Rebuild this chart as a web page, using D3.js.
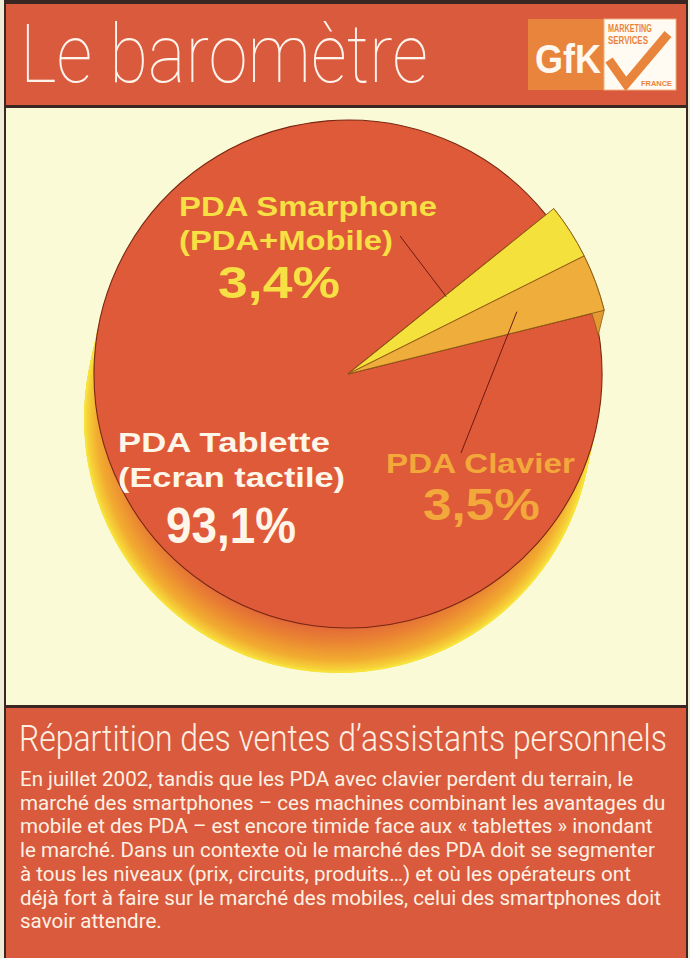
<!DOCTYPE html>
<html>
<head>
<meta charset="utf-8">
<script src="https://cdnjs.cloudflare.com/ajax/libs/d3/7.8.5/d3.min.js"></script>
<style>
body { margin: 0; background: #efedd8; }
svg { display: block; }
</style>
</head>
<body>
<svg id="chart" width="690" height="958"></svg>
<script>
var categories = ['PDA Smarphone', 'PDA Clavier', 'PDA Tablette']
var subLabels = ['(PDA+Mobile)', '', '(Ecran tactile)']
var shares = [3.4, 3.5, 93.1]
var shareLabels = ['3,4%', '3,5%', '93,1%']
var sliceColors = ['#f4e13b', '#efad3b', '#df5a39']
var labelColors = ['#f6e044', '#f2a83a', '#fff6ea']

var title = 'Le barom\u00e8tre'
var subtitle = 'R\u00e9partition des ventes d\u2019assistants personnels'
var bodyLines = [
    'En juillet 2002, tandis que les PDA avec clavier perdent du terrain, le',
    'march\u00e9 des smartphones \u2013 ces machines combinant les avantages du',
    'mobile et des PDA \u2013 est encore timide face aux \u00ab tablettes \u00bb inondant',
    'le march\u00e9. Dans un contexte o\u00f9 le march\u00e9 des PDA doit se segmenter',
    '\u00e0 tous les niveaux (prix, circuits, produits\u2026) et o\u00f9 les op\u00e9rateurs ont',
    'd\u00e9j\u00e0 fort \u00e0 faire sur le march\u00e9 des mobiles, celui des smartphones doit',
    'savoir attendre.'
]

var svg = d3.select('#chart')
var red = '#d95a3c'
var cream = '#fafad6'
var frame = '#3a2722'

var cx = 348, cy = 374, R = 254
var sliceR = 264
var depth = [-10, 45]
var deg = Math.PI / 180

var pie = d3.pie().sort(null).value(function(d) { return d })
    .startAngle(51.2 * deg).endAngle(51.2 * deg + 2 * Math.PI)
var arcs = pie(shares)

function pointAt(a, r) {
    return [cx + Math.sin(a) * r, cy - Math.cos(a) * r]
}

// squeeze or stretch a text horizontally so it covers w pixels
function fit(node, x, y, w) {
    var n = node.getComputedTextLength()
    d3.select(node).attr('transform', 'translate(' + x + ',' + y + ') scale(' + (w / n) + ',1)')
}

function drawPanels() {
    svg.append('rect').attr('x', 4).attr('y', 0).attr('width', 684).attr('height', 958).attr('fill', frame)
    svg.append('rect').attr('x', 6).attr('y', 4).attr('width', 680).attr('height', 101).attr('fill', red)
    svg.append('rect').attr('x', 6).attr('y', 108).attr('width', 680).attr('height', 597).attr('fill', cream)
    svg.append('rect').attr('x', 6).attr('y', 708).attr('width', 680).attr('height', 250).attr('fill', red)

    var t = svg.append('text')
        .style('font-family', 'Roboto, Lato, sans-serif')
        .style('font-weight', 100)
        .style('font-size', '82px')
        .style('fill', '#fff4ec')
        .text(title)
    fit(t.node(), 20, 82, 408)
}

function drawLogo() {
    var g = svg.append('g')
    g.append('rect').attr('x', 528).attr('y', 19).attr('width', 76).attr('height', 71).attr('fill', '#e9843c')
    g.append('rect').attr('x', 604).attr('y', 19).attr('width', 72).attr('height', 71).attr('fill', '#fffbf2')
        .attr('stroke', '#f0b080').attr('stroke-width', 1)
    var logoTexts = [
        ['GfK', 535, 73, 66, 40, 'Liberation Sans, Arial, sans-serif', '#fff8f0'],
        ['MARKETING', 608, 32, 44, 10, 'Liberation Sans, sans-serif', '#e9843c'],
        ['SERVICES', 608, 44, 40, 10, 'Liberation Sans, sans-serif', '#e9843c'],
        ['FRANCE', 641, 86, 31, 8, 'Liberation Sans, sans-serif', '#e9843c']
    ]
    logoTexts.forEach(function(l) {
        var t = g.append('text')
            .style('font-family', l[5]).style('font-weight', 'bold')
            .style('font-size', l[4] + 'px').style('fill', l[6]).text(l[0])
        fit(t.node(), l[1], l[2], l[3])
    })
    g.append('path').attr('d', 'M609,60 L626,84 L668,34')
        .attr('fill', 'none').attr('stroke', '#e9843c').attr('stroke-width', 9)
}

function drawPie() {
    var defs = svg.append('defs')
    var grad = defs.append('radialGradient')
        .attr('id', 'sideGrad')
        .attr('gradientUnits', 'userSpaceOnUse')
        .attr('cx', cx + depth[0]).attr('cy', cy + depth[1]).attr('r', R)
    var stops = [[0, '#df5a39'], [0.8, '#e0603a'], [0.88, '#ea8432'], [0.95, '#f2ac30'], [1, '#f8e03c']]
    stops.forEach(function(s) {
        grad.append('stop').attr('offset', s[0]).attr('stop-color', s[1])
    })

    // extruded side of the pie: stack of shifted discs
    var steps = d3.range(1, -0.001, -1 / 40)
    svg.append('g').selectAll('circle')
        .data(steps)
        .enter()
        .append('circle')
        .attr('cx', function(t) { return cx + depth[0] * t })
        .attr('cy', function(t) { return cy + depth[1] * t })
        .attr('r', R)
        .attr('fill', 'url(#sideGrad)')
    svg.append('circle')
        .attr('cx', cx + depth[0]).attr('cy', cy + depth[1]).attr('r', R - 1)
        .attr('fill', 'none').attr('stroke', '#f7e23c').attr('stroke-width', 2)

    var faceArc = d3.arc().innerRadius(0).outerRadius(R)
    svg.append('path')
        .attr('transform', 'translate(' + cx + ',' + cy + ')')
        .attr('d', faceArc(arcs[2]))
        .attr('fill', sliceColors[2])
        .attr('stroke', '#7a2714')
        .attr('stroke-width', 1.1)

    // the two small slices stand out of the disc
    var sliceArc = d3.arc().innerRadius(0).outerRadius(sliceR)
    var drop = [-6, 25]
    ;[0, 1].forEach(function(i) {
        var d = arcs[i]
        var pts = []
        d3.range(0, 1.0001, 0.1).forEach(function(f) {
            pts.push(pointAt(d.startAngle + (d.endAngle - d.startAngle) * f, sliceR))
        })
        var back = pts.slice().reverse().map(function(p) { return [p[0] + drop[0], p[1] + drop[1]] })
        svg.append('path')
            .attr('d', d3.line()(pts.concat(back)) + 'Z')
            .attr('fill', i == 0 ? '#e8cc30' : '#e49a32')
            .attr('stroke', '#8a5a14')
            .attr('stroke-width', 0.8)
        svg.append('path')
            .attr('transform', 'translate(' + cx + ',' + cy + ')')
            .attr('d', sliceArc(d))
            .attr('fill', sliceColors[i])
            .attr('stroke', '#8a5a14')
            .attr('stroke-width', 0.9)
    })
}

function drawLabels() {
    var labels = [
        { text: categories[0], x: 179, y: 216, w: 258, size: 28, c: 0 },
        { text: subLabels[0], x: 179, y: 250, w: 214, size: 28, c: 0 },
        { text: shareLabels[0], x: 218, y: 298, w: 122, size: 44, c: 0 },
        { text: categories[2], x: 118, y: 452, w: 212, size: 28, c: 2 },
        { text: subLabels[2], x: 118, y: 487, w: 227, size: 28, c: 2 },
        { text: shareLabels[2], x: 166, y: 543, w: 130, size: 50, c: 2 },
        { text: categories[1], x: 386, y: 473, w: 189, size: 28, c: 1 },
        { text: shareLabels[1], x: 423, y: 520, w: 117, size: 44, c: 1 }
    ]
    svg.append('g').selectAll('text')
        .data(labels)
        .enter()
        .append('text')
        .style('font-family', 'Liberation Sans, Arial, sans-serif')
        .style('font-weight', 'bold')
        .style('font-size', function(d) { return d.size + 'px' })
        .style('fill', function(d) { return labelColors[d.c] })
        .text(function(d) { return d.text })
        .each(function(d) { fit(this, d.x, d.y, d.w) })

    // leader lines
    var p0 = pointAt(arcs[0].startAngle + 0.6 * deg, 125)
    var p1 = pointAt((arcs[1].startAngle + arcs[1].endAngle) / 2, 180)
    svg.append('line').attr('x1', 400).attr('y1', 236).attr('x2', p0[0]).attr('y2', p0[1])
        .attr('stroke', '#6e1a10').attr('stroke-width', 1)
    svg.append('line').attr('x1', p1[0]).attr('y1', p1[1]).attr('x2', 461).attr('y2', 453)
        .attr('stroke', '#6e1a10').attr('stroke-width', 1)
}

function drawText() {
    var st = svg.append('text')
        .style('font-family', 'Roboto, sans-serif')
        .style('font-weight', 300)
        .style('font-size', '36px')
        .style('fill', '#fcefe2')
        .text(subtitle)
    fit(st.node(), 19, 751, 648)

    // one common squeeze for the whole paragraph, set by its widest line
    var lines = svg.append('g').selectAll('text')
        .data(bodyLines)
        .enter()
        .append('text')
        .style('font-family', 'Roboto, sans-serif')
        .style('font-size', '20px')
        .style('fill', '#fdf1e4')
        .text(function(d) { return d })
    var widest = 0
    lines.each(function() { widest = Math.max(widest, this.getComputedTextLength()) })
    var sx = 646 / widest
    lines.attr('transform', function(d, i) {
        return 'translate(20,' + (786 + i * 23.7) + ') scale(' + sx + ',1)'
    })
}

drawPanels()
drawLogo()
drawPie()
drawLabels()
drawText()
</script>
</body>
</html>
